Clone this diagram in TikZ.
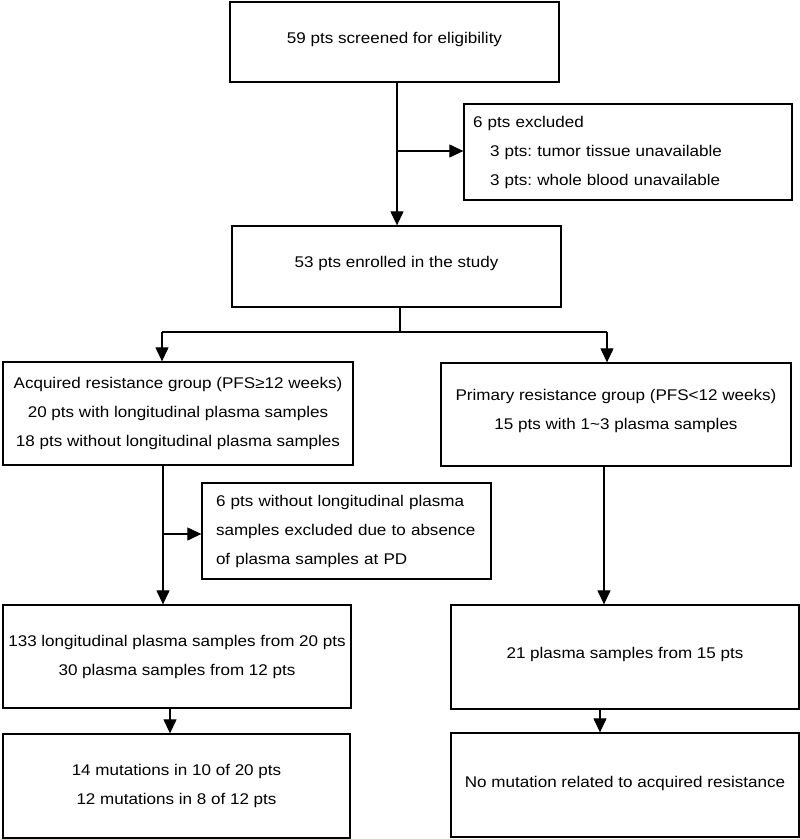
\documentclass[tikz,border=0pt]{standalone}
\usepackage{fontspec}
\setmainfont[FakeStretch=1.1]{Liberation Sans}
\usetikzlibrary{arrows.meta}
\frenchspacing
\begin{document}
\begin{tikzpicture}[x=1pt,y=-1pt,
  box/.style={draw=black, line width=1.3pt, rectangle, inner sep=0pt},
  txt/.style={align=center, inner sep=0pt, font=\fontsize{15.5}{29}\selectfont},
  lbox/.style={draw=black, line width=1.3pt, rectangle, inner ysep=0pt, align=left,
    font=\fontsize{15.5}{29}\selectfont},
  arr/.style={line width=1.2pt, -{Triangle[length=14pt,width=13pt]}},
  ln/.style={line width=1.2pt}]
\useasboundingbox (0,0) rectangle (800,839);
% boxes
\node[box, minimum width=329pt, minimum height=80pt,
  label={[txt, yshift=3pt]center:59 pts screened for eligibility}] (b1) at (394.5,42) {};
\node[lbox, minimum height=96pt, inner xsep=9pt, text width=310pt] (ex1) at (628,152)
  {6 pts excluded\\\hspace*{17pt}3 pts: tumor tissue unavailable\\\hspace*{17pt}3 pts: whole blood unavailable};
\node[box, minimum width=329pt, minimum height=81pt,
  label={[txt, yshift=3pt]center:53 pts enrolled in the study}] (b3) at (396.5,266.5) {};
\node[box, minimum width=350pt, minimum height=103pt,
  label={[txt]center:{Acquired resistance group (PFS≥12 weeks)\\20 pts with longitudinal plasma samples\\18 pts without longitudinal plasma samples}}] (acq) at (178,413.5) {};
\node[box, minimum width=350pt, minimum height=103pt,
  label={[txt, yshift=4pt]center:{Primary resistance group (PFS<12 weeks)\\15 pts with 1\textasciitilde3 plasma samples}}] (prim) at (616,414.5) {};
\node[lbox, minimum height=96pt, inner xsep=14pt, text width=261pt] (ex2) at (346.5,531)
  {6 pts without longitudinal plasma\\samples excluded due to absence\\of plasma samples at PD};
\node[box, minimum width=348pt, minimum height=103pt,
  label={[txt]center:{133 longitudinal plasma samples from 20 pts\\30 plasma samples from 12 pts}}] (b133) at (177,656.5) {};
\node[box, minimum width=348pt, minimum height=104pt,
  label={[txt, yshift=3pt]center:21 plasma samples from 15 pts}] (b21) at (625,657) {};
\node[box, minimum width=347pt, minimum height=104pt,
  label={[txt]center:{14 mutations in 10 of 20 pts\\12 mutations in 8 of 12 pts}}] (b14) at (176.5,786) {};
\node[box, minimum width=348pt, minimum height=104pt,
  label={[txt, yshift=2pt]center:No mutation related to acquired resistance}] (bno) at (625,785) {};
% junction coordinates
\coordinate (j1) at (397,151);
\coordinate (j2) at (400,332);
\coordinate (jl) at (162,332);
\coordinate (jr) at (607,332);
\coordinate (j3) at (163,534);
\coordinate (k1) at (604,0);
\coordinate (k2) at (170,0);
\coordinate (k3) at (600,0);
% connectors
\draw[arr] (j1 |- b1.south) -- (j1 |- b3.north);
\draw[arr] (j1) -- (j1 -| ex1.west);
\draw[ln] (j2 |- b3.south) -- (j2);
\draw[ln] (jl) -- (jr);
\draw[arr] (jl) -- (jl |- acq.north);
\draw[arr] (jr) -- (jr |- prim.north);
\draw[arr] (j3 |- acq.south) -- (j3 |- b133.north);
\draw[arr] (j3) -- (j3 -| ex2.west);
\draw[arr] (k1 |- prim.south) -- (k1 |- b21.north);
\draw[arr] (k2 |- b133.south) -- (k2 |- b14.north);
\draw[arr] (k3 |- b21.south) -- (k3 |- bno.north);
\end{tikzpicture}
\end{document}
